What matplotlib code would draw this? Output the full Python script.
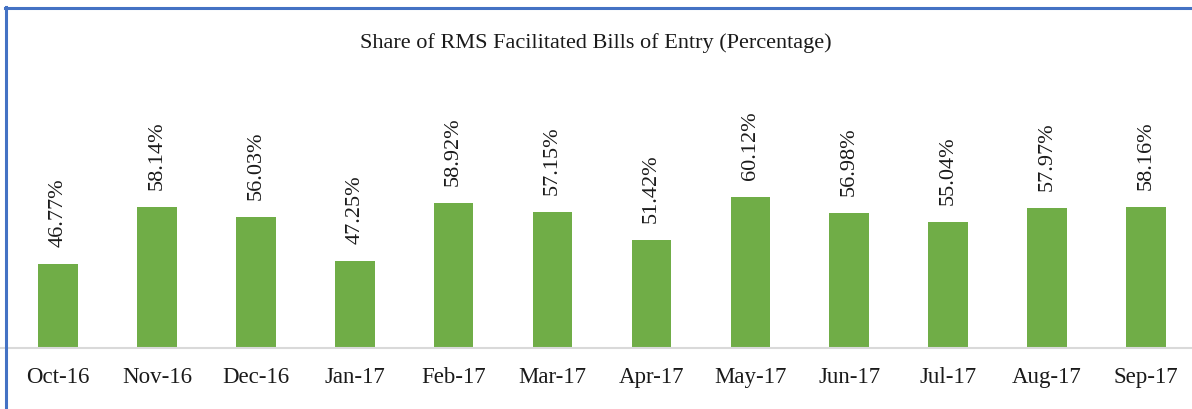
import matplotlib
matplotlib.use("Agg")
import matplotlib.pyplot as plt
from matplotlib.lines import Line2D

categories = ["Oct-16", "Nov-16", "Dec-16", "Jan-17", "Feb-17", "Mar-17",
              "Apr-17", "May-17", "Jun-17", "Jul-17", "Aug-17", "Sep-17"]
values = [46.77, 58.14, 56.03, 47.25, 58.92, 57.15,
          51.42, 60.12, 56.98, 55.04, 57.97, 58.16]
title = "Share of RMS Facilitated Bills of Entry (Percentage)"

W, H, DPI = 1192, 410, 100
fig = plt.figure(figsize=(W / DPI, H / DPI), dpi=DPI)
font = ["Liberation Serif", "DejaVu Serif"]

base_px = 348.5
top_px = 90
ax_bottom = (H - base_px) / H
ax_top = (H - top_px) / H
ax = fig.add_axes([0, ax_bottom, 1, ax_top - ax_bottom])

x = list(range(len(categories)))
ax.bar(x, values, width=0.40, color="#70AD47", zorder=2)

px_per_unit = (1146 - 58) / 11
ax.set_xlim(-58 / px_per_unit, 11 + (W - 1146) / px_per_unit)
ymin = 30
ax.set_ylim(ymin, ymin + (base_px - top_px) / 5.0)

for xi, v in zip(x, values):
    ax.annotate(f"{v:.2f}%", (xi, v), xytext=(0, 13), textcoords="offset points",
                rotation=90, ha="center", va="bottom", fontsize=16,
                family=font, color="#1a1a1a")

ax.set_xticks(x)
ax.set_xticklabels(categories, fontsize=16.5, family=font, color="#1a1a1a")
ax.tick_params(axis="x", length=0, pad=13)
ax.set_yticks([])
for s in ["top", "right", "left"]:
    ax.spines[s].set_visible(False)
ax.spines["bottom"].set_color("#D9D9D9")
ax.spines["bottom"].set_linewidth(1.5)
ax.patch.set_alpha(0)

fig.text(0.5, (H - 43) / H, title, ha="center", va="center",
         fontsize=16, family=font, color="#1a1a1a")

# blue border on left and top
fig.add_artist(Line2D([6 / W, 6 / W], [0, (H - 8) / H], color="#4472C4",
                      linewidth=2.2, transform=fig.transFigure))
fig.add_artist(Line2D([5 / W, 1], [(H - 8.5) / H, (H - 8.5) / H], color="#4472C4",
                      linewidth=2.2, transform=fig.transFigure))

fig.savefig("out.png", dpi=DPI)
